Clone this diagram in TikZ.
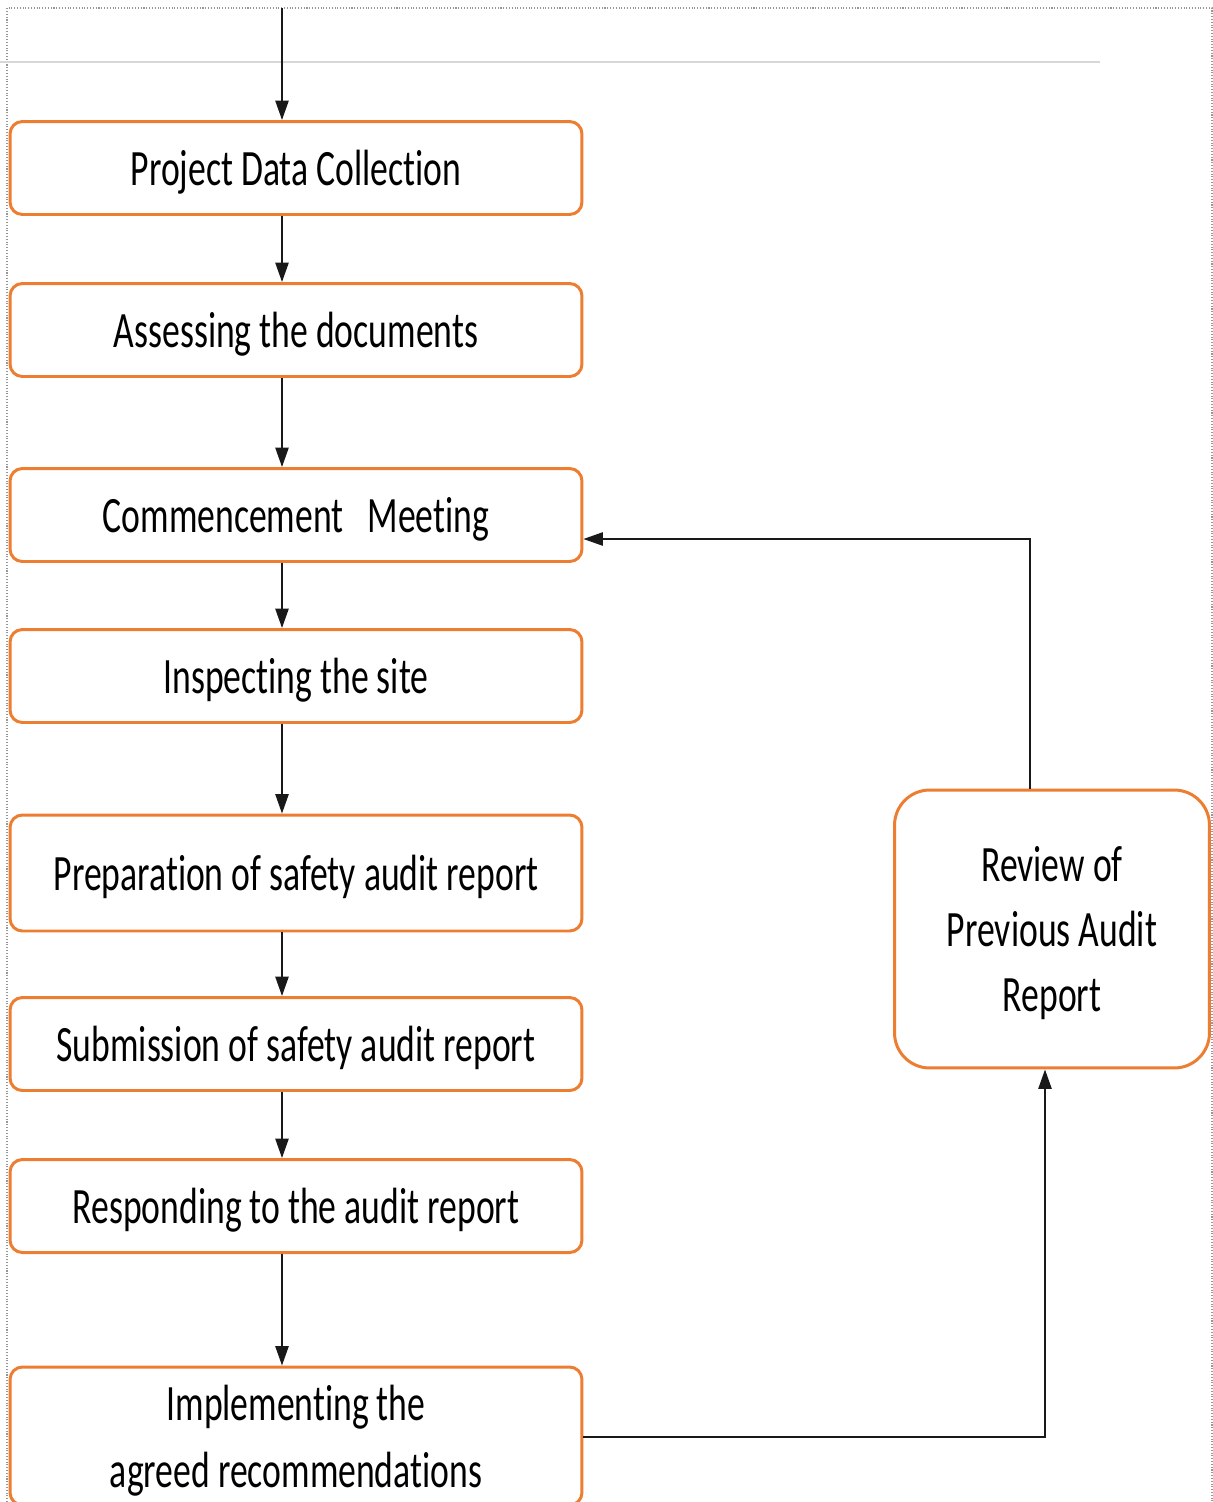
\documentclass[tikz,border=0pt]{standalone}
\usepackage{fontspec}
\setmainfont{Carlito}[FakeStretch=0.7,Ligatures=NoCommon]
\usetikzlibrary{arrows.meta}

\definecolor{boxorange}{RGB}{237,125,49}
\definecolor{framegray}{RGB}{150,150,150}
\definecolor{rulegray}{RGB}{215,215,215}

\tikzset{
  stage/.style={draw=boxorange,line width=1.7pt,rounded corners=7pt,fill=white,
    minimum width=11.44cm,minimum height=1.86cm,inner sep=0pt,align=center,
    text depth=0pt,font=\fontsize{29}{38}\selectfont},
  flow/.style={draw=black!90,line width=1pt,-{Triangle[length=11pt,width=7.5pt]}}
}

\begin{document}
\begin{tikzpicture}[x=0.02cm,y=-0.02cm]
\useasboundingbox (0,0) rectangle (1213,1502);

% page frame
\draw[framegray,densely dotted,line width=0.6pt] (7,1502) -- (7,8) -- (1212,8) -- (1212,1502);
\draw[rulegray,line width=1pt] (0,62) -- (1100,62);

% main sequence
\node[stage] (pdc) at (296,168) {Project Data Collection};
\node[stage] (adoc) at (296,330) {Assessing the documents};
\node[stage] (meet) at (296,515) {Commencement~~~Meeting};
\node[stage] (site) at (296,676) {Inspecting the site};
\node[stage,minimum height=2.32cm] (prep) at (296,873) {Preparation of safety audit report};
\node[stage] (subm) at (296,1044) {Submission of safety audit report};
\node[stage] (resp) at (296,1206) {Responding to the audit report};
\node[stage,minimum height=2.76cm] (impl) at (296,1436) {Implementing the\\agreed recommendations};

% review box
\node[stage,rounded corners=20pt,minimum width=6.3cm,minimum height=5.56cm,font=\fontsize{29}{37}\selectfont]
  (rev) at (1052,929) {Review of\\Previous Audit\\Report};

\coordinate (spine) at (282,8);
\draw[flow] (spine) -- (spine |- pdc.north);
\draw[flow] (spine |- pdc.south) -- (spine |- adoc.north);
\draw[flow] (spine |- adoc.south) -- (spine |- meet.north);
\draw[flow] (spine |- meet.south) -- (spine |- site.north);
\draw[flow] (spine |- site.south) -- (spine |- prep.north);
\draw[flow] (spine |- prep.south) -- (spine |- subm.north);
\draw[flow] (spine |- subm.south) -- (spine |- resp.north);
\draw[flow] (spine |- resp.south) -- (spine |- impl.north);

% feedback loop
\coordinate (back) at (1030,539);
\coordinate (up) at (1045,1437);
\draw[flow] (impl.east |- up) -- (up) -- (up |- rev.south);
\draw[flow] (rev.north -| back) -- (back) -- (back -| meet.east);

\end{tikzpicture}
\end{document}
